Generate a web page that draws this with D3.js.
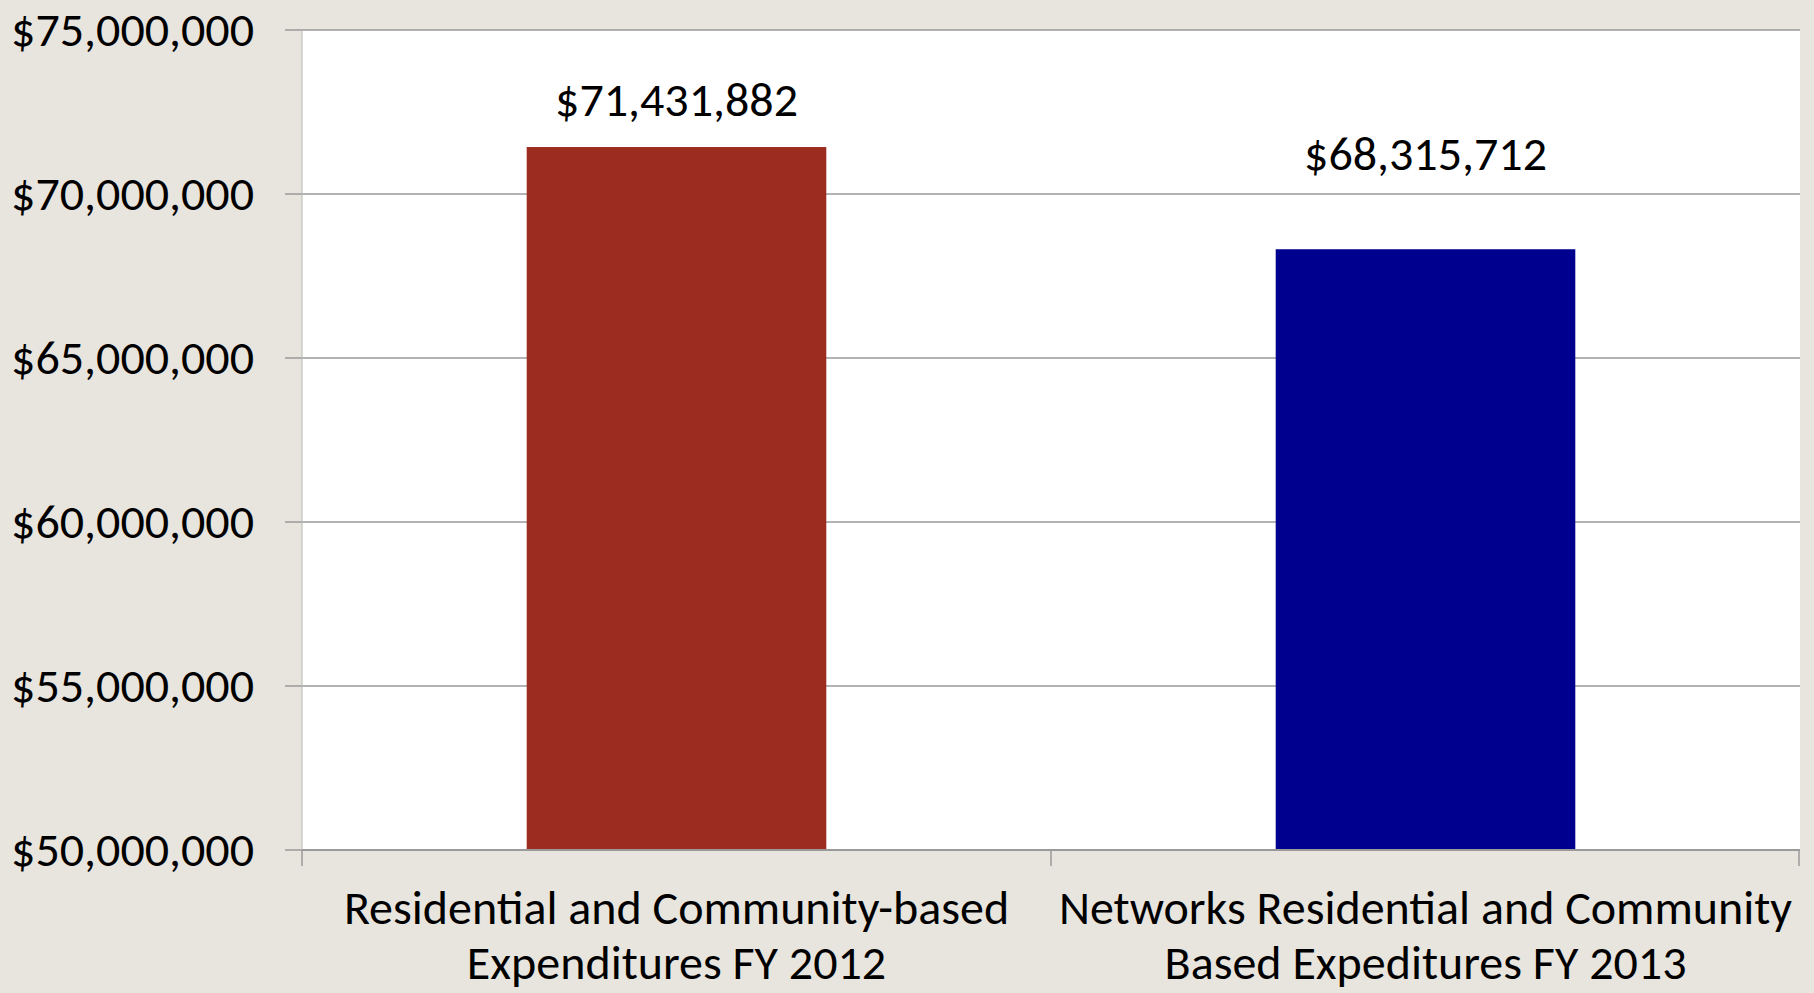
<!DOCTYPE html>
<html>
<head>
<meta charset="utf-8">
<script src="https://cdn.jsdelivr.net/npm/d3@7"></script>
<style>
  html, body { margin: 0; padding: 0; background: #e8e4de; }
  svg { display: block; }
  text { font-family: Carlito, Calibri, "Liberation Sans Narrow", "Open Sans", sans-serif; fill: #000; }
</style>
</head>
<body>
<svg id="chart" width="1814" height="993"></svg>
<script>
// categories, values, colors
var categories = [
  ['Residential and Community-based', 'Expenditures FY 2012'],
  ['Networks Residential and Community', 'Based Expeditures FY 2013']
]
var values = [71431882, 68315712]
var colors = ['#9b2c1f', '#00008f']
var yTicks = [50000000, 55000000, 60000000, 65000000, 70000000, 75000000]

// label lift above each bar (the blue one sits higher in the original)
var labelLift = [31, 79]

var margin = { top: 30, right: 14, bottom: 143, left: 302 }
var width = 1814 - margin.left - margin.right
var height = 993 - margin.top - margin.bottom
var fontSize = 48

var svg = d3.select('#chart')
var g = svg.append('g').attr('transform', `translate(${margin.left},${margin.top})`)

var x = d3.scaleBand()
  .domain(d3.range(values.length))
  .range([0, width])
  .paddingInner(0.6)
  .paddingOuter(0.3)

var y = d3.scaleLinear()
  .domain([50000000, 75000000])
  .range([height, 0])

var fmt = d3.format('$,')

// plot area
g.append('rect')
  .attr('width', width)
  .attr('height', height)
  .attr('fill', '#ffffff')

// gridlines + tick marks extending left
g.append('g')
  .selectAll('line')
  .data(yTicks)
  .enter()
  .append('line')
  .attr('x1', -17)
  .attr('x2', width)
  .attr('y1', d => y(d))
  .attr('y2', d => y(d))
  .attr('stroke', '#9a9a9a')
  .attr('stroke-width', 1.5)

// left axis line
g.append('line')
  .attr('x1', 0).attr('x2', 0)
  .attr('y1', 0).attr('y2', height)
  .attr('stroke', '#b8b8b8')
  .attr('stroke-width', 1)

// y tick labels
g.append('g')
  .selectAll('text')
  .data(yTicks)
  .enter()
  .append('text')
  .attr('x', -48)
  .attr('y', d => y(d))
  .attr('dy', '0.33em')
  .attr('text-anchor', 'end')
  .attr('font-size', fontSize)
  .text(d => fmt(d))

// bars
g.selectAll('.bar')
  .data(values)
  .enter()
  .append('rect')
  .attr('class', 'bar')
  .attr('x', (d, i) => x(i))
  .attr('width', x.bandwidth())
  .attr('y', d => y(d))
  .attr('height', d => height - y(d))
  .attr('fill', (d, i) => colors[i])

// value labels
g.selectAll('.val')
  .data(values)
  .enter()
  .append('text')
  .attr('class', 'val')
  .attr('x', (d, i) => x(i) + x.bandwidth() / 2)
  .attr('y', (d, i) => y(d) - labelLift[i])
  .attr('text-anchor', 'middle')
  .attr('font-size', fontSize)
  .text(d => fmt(d))

// x axis line
g.append('line')
  .attr('x1', 0).attr('x2', width)
  .attr('y1', height).attr('y2', height)
  .attr('stroke', '#9a9a9a')
  .attr('stroke-width', 2)

// x tick marks at category boundaries
var bounds = d3.range(values.length + 1).map(i => i * x.step())
g.append('g')
  .selectAll('line')
  .data(bounds)
  .enter()
  .append('line')
  .attr('x1', d => Math.min(d, width - 1))
  .attr('x2', d => Math.min(d, width - 1))
  .attr('y1', height)
  .attr('y2', height + 16)
  .attr('stroke', '#9a9a9a')
  .attr('stroke-width', 1.5)

// category labels
var cat = g.selectAll('.cat')
  .data(categories)
  .enter()
  .append('text')
  .attr('class', 'cat')
  .attr('text-anchor', 'middle')
  .attr('font-size', fontSize)
  .attr('transform', (d, i) => `translate(${x(i) + x.bandwidth() / 2},${height + 74})`)

cat.selectAll('tspan')
  .data(d => d)
  .enter()
  .append('tspan')
  .attr('x', 0)
  .attr('y', (d, j) => j * 55)
  .text(d => d)
</script>
</body>
</html>
